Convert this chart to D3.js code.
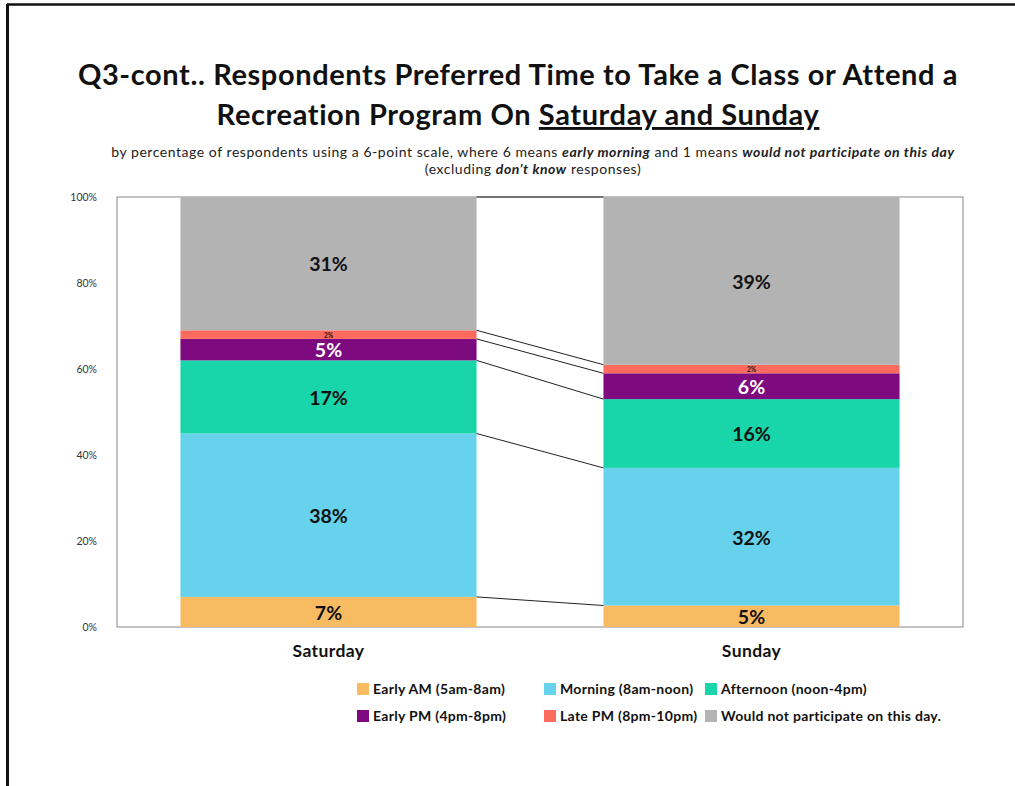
<!DOCTYPE html>
<html>
<head>
<meta charset="utf-8">
<script src="https://cdn.jsdelivr.net/npm/d3@7"></script>
<style>
  html, body { margin: 0; padding: 0; background: #fff; }
  svg { display: block; font-family: Lato, "Open Sans", "DejaVu Sans", sans-serif; }
</style>
</head>
<body>
<svg id="chart" width="1015" height="786"></svg>
<script>
// Days compared on the x axis
const days = ["Saturday", "Sunday"];

// Time-slot series, bottom to top of each stacked column
const seriesNames = [
  "Early AM (5am-8am)",
  "Morning (8am-noon)",
  "Afternoon (noon-4pm)",
  "Early PM (4pm-8pm)",
  "Late PM (8pm-10pm)",
  "Would not participate on this day."
];
const seriesColors = ["#F8BB62", "#66D2EC", "#19D5AA", "#7E0A80", "#FC6B5E", "#B3B3B3"];
const labelColors  = ["#111", "#111", "#111", "#fff", "#111", "#111"];

// Percent of respondents per series, one entry per day
const earlyAM   = [7, 5];
const morning   = [38, 32];
const afternoon = [17, 16];
const earlyPM   = [5, 6];
const latePM    = [2, 2];
const wouldNot  = [31, 39];

const yTicks = [0, 20, 40, 60, 80, 100];

const seriesValues = [earlyAM, morning, afternoon, earlyPM, latePM, wouldNot];
const rows = days.map((d, i) => {
  const r = { day: d };
  seriesNames.forEach((s, k) => { r[s] = seriesValues[k][i]; });
  return r;
});
const stacked = d3.stack().keys(seriesNames)(rows);

const svg = d3.select("#chart");

// Page frame
svg.append("line").attr("x1", 7).attr("x2", 1015).attr("y1", 4.5).attr("y2", 4.5)
  .attr("stroke", "#111").attr("stroke-width", 2.5);
svg.append("line").attr("x1", 7.5).attr("x2", 7.5).attr("y1", 4).attr("y2", 786)
  .attr("stroke", "#111").attr("stroke-width", 3);

// Title
const title = svg.append("g").attr("font-weight", 700).attr("fill", "#111")
  .attr("text-anchor", "middle").attr("letter-spacing", 0.6);
title.append("text").attr("x", 518).attr("y", 85).attr("font-size", 29)
  .text("Q3-cont.. Respondents Preferred Time to Take a Class or Attend a");
const t2 = title.append("text").attr("x", 518).attr("y", 125).attr("font-size", 29);
t2.append("tspan").text("Recreation Program On ");
t2.append("tspan").attr("text-decoration", "underline").text("Saturday and Sunday");

// Subtitle
const sub = svg.append("g").attr("fill", "#222").attr("font-size", 14)
  .attr("letter-spacing", 0.55).attr("text-anchor", "middle");
const s1 = sub.append("text").attr("x", 533).attr("y", 157);
s1.append("tspan").text("by percentage of respondents using a 6-point scale, where 6 means ");
s1.append("tspan").attr("font-weight", 700).attr("font-style", "italic").text("early morning");
s1.append("tspan").text(" and 1 means ");
s1.append("tspan").attr("font-weight", 700).attr("font-style", "italic").text("would not participate on this day");
const s2 = sub.append("text").attr("x", 533).attr("y", 174);
s2.append("tspan").text("(excluding ");
s2.append("tspan").attr("font-weight", 700).attr("font-style", "italic").text("don\u2019t know");
s2.append("tspan").text(" responses)");

// Plot area
const plot = { left: 117, right: 963, top: 197, bottom: 627 };
const x = d3.scaleBand().domain(days).range([plot.left, plot.right]).paddingInner(0.3).paddingOuter(0.15);
const y = d3.scaleLinear().domain([0, 100]).range([plot.bottom, plot.top]);

svg.append("rect").attr("x", plot.left).attr("y", plot.top)
  .attr("width", plot.right - plot.left).attr("height", plot.bottom - plot.top)
  .attr("fill", "#fff").attr("stroke", "#8a8a8a").attr("stroke-width", 1);

// Y axis
const yAxis = svg.append("g").attr("transform", `translate(${plot.left - 10},0)`)
  .call(d3.axisLeft(y).tickValues(yTicks).tickFormat(d => d + "%").tickSize(0).tickPadding(10));
yAxis.select(".domain").remove();
yAxis.selectAll("text").attr("font-size", 10.5).attr("fill", "#333")
  .attr("font-family", "Lato, 'Open Sans', sans-serif");

// Stacked columns
const layers = svg.append("g").selectAll("g").data(stacked).join("g")
  .attr("fill", (d, i) => seriesColors[i]);
layers.selectAll("rect").data(d => d).join("rect")
  .attr("x", d => x(d.data.day))
  .attr("width", x.bandwidth())
  .attr("y", d => y(d[1]))
  .attr("height", d => y(d[0]) - y(d[1]));

// Series lines joining the top of each segment between the two columns
const seriesLine = d3.line().x(p => p[0]).y(p => p[1]);
svg.append("g").selectAll("path").data(stacked).join("path")
  .attr("d", s => seriesLine([
    [x(days[0]) + x.bandwidth(), y(s[0][1])],
    [x(days[1]), y(s[1][1])]
  ]))
  .attr("fill", "none").attr("stroke", "#222").attr("stroke-width", 1);

// Value labels; the thin 2% bands get a tiny label nudged toward their top edge
const labels = svg.append("g").attr("text-anchor", "middle").attr("font-weight", 700);
stacked.forEach((s, i) => {
  labels.selectAll(null).data(s).join("text")
    .attr("x", d => x(d.data.day) + x.bandwidth() / 2)
    .attr("y", d => (d[1] - d[0]) < 3 ? y(d[1]) + 5 : (y(d[0]) + y(d[1])) / 2 + 1)
    .attr("dy", "0.35em")
    .attr("font-size", d => (d[1] - d[0]) < 3 ? 6.5 : 19.5)
    .attr("fill", labelColors[i])
    .text(d => (d[1] - d[0]) + "%");
});

// Category labels
svg.append("g").selectAll("text").data(days).join("text")
  .attr("x", d => x(d) + x.bandwidth() / 2).attr("y", 657)
  .attr("text-anchor", "middle").attr("font-size", 17.5).attr("letter-spacing", 0.4)
  .attr("font-weight", 700).attr("fill", "#111")
  .text(d => d);

// Legend: two rows of three
const legendCols = [357, 544, 705];
const legendRows = [689, 716];
const legend = svg.append("g").selectAll("g").data(seriesNames).join("g")
  .attr("transform", (d, i) => `translate(${legendCols[i % 3]},${legendRows[Math.floor(i / 3)]})`);
legend.append("rect").attr("x", 0).attr("y", -6).attr("width", 12).attr("height", 12)
  .attr("fill", (d, i) => seriesColors[i]);
legend.append("text").attr("x", 16).attr("dy", "0.35em")
  .attr("font-size", 14).attr("letter-spacing", 0.3).attr("font-weight", 700).attr("fill", "#111")
  .text(d => d);
</script>
</body>
</html>
